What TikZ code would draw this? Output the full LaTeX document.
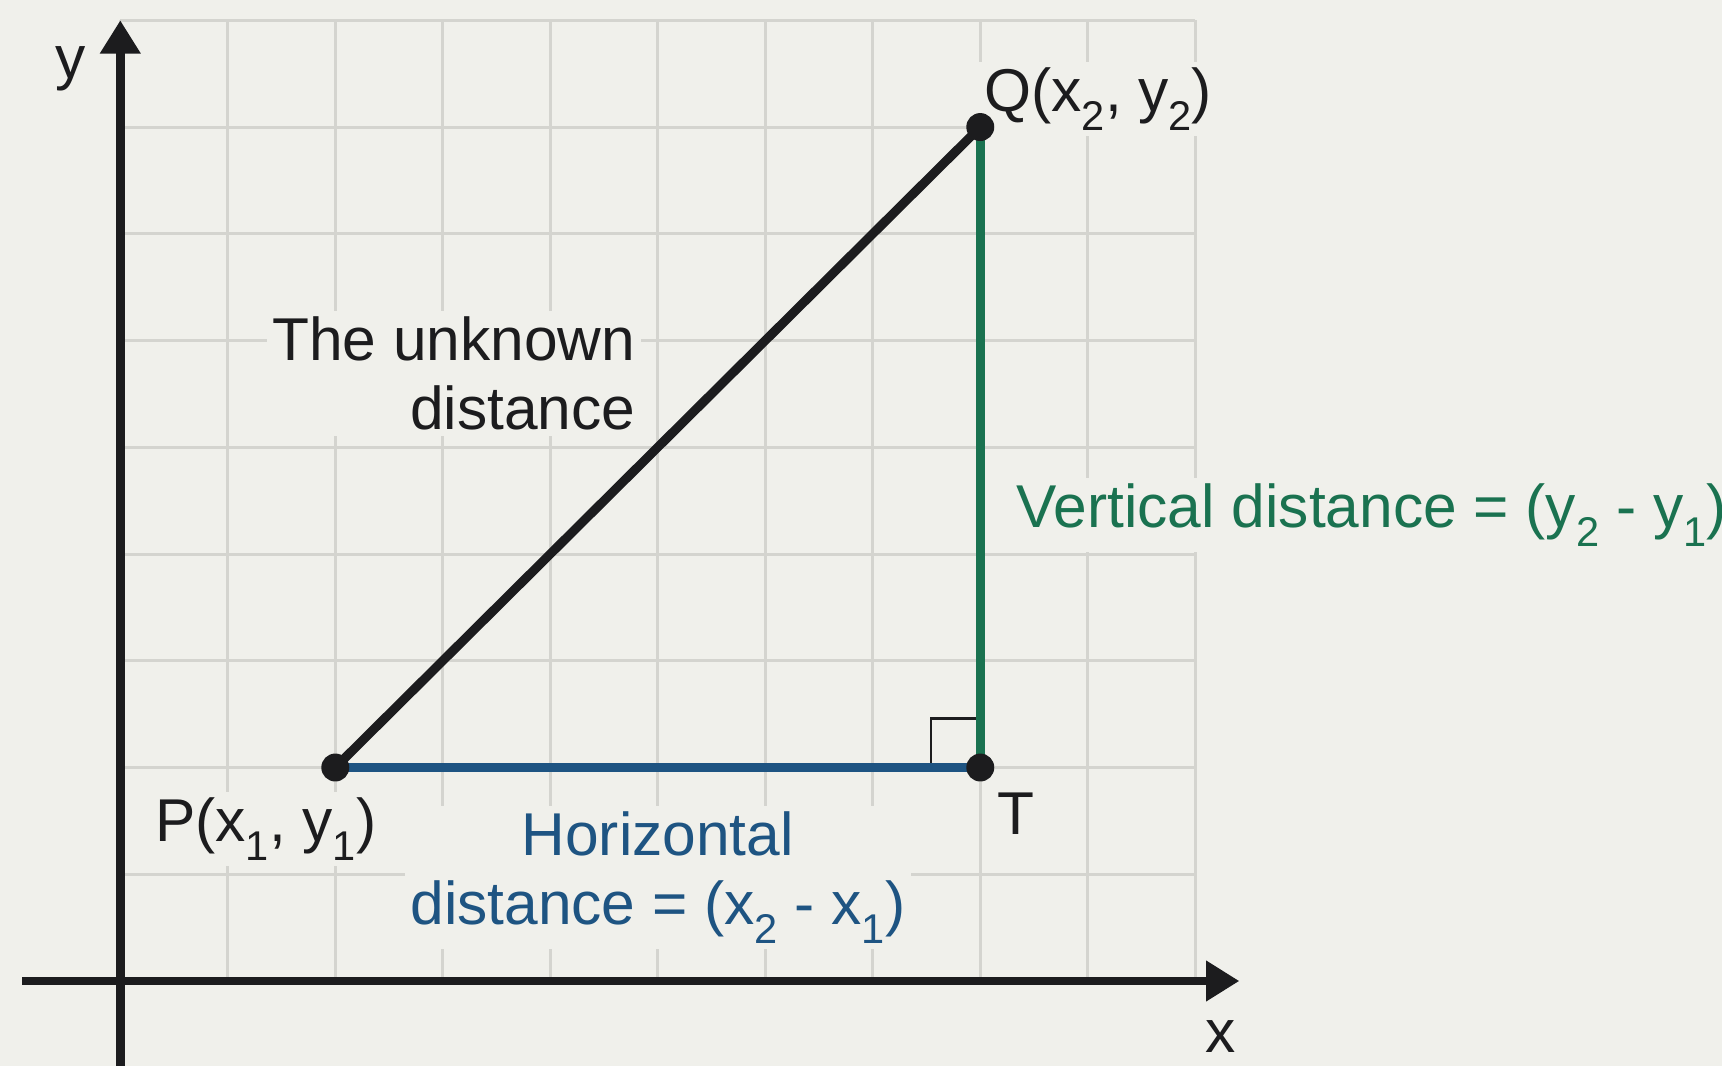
\documentclass[tikz,border=0pt]{standalone}
\usepackage{fontspec}
\setmainfont{Liberation Sans}
\usetikzlibrary{arrows.meta,positioning,calc}
\definecolor{bgcol}{RGB}{240,240,235}
\definecolor{gridcol}{RGB}{212,212,207}
\definecolor{inkcol}{RGB}{28,28,30}
\definecolor{vertcol}{RGB}{26,114,80}
\definecolor{horizcol}{RGB}{30,84,130}
\newcommand{\lowsub}[1]{\raisebox{-0.32em}{\fontsize{11}{11}\selectfont #1}}
\tikzset{
  gridln/.style={draw=gridcol,line width=0.8pt},
  axisln/.style={draw=inkcol,line width=2.3pt,-{Triangle[length=0.31cm,width=0.36cm]}},
  segln/.style={line width=2.4pt},
  dot/.style={circle,fill=inkcol,inner sep=0pt,minimum size=0.26cm},
  lbl/.style={font=\fontsize{16}{18.2}\selectfont,text=inkcol,fill=bgcol,inner sep=1.5pt},
  rangle/.style={draw=inkcol,line width=0.7pt}
}
\begin{document}
\begin{tikzpicture}[x=1cm,y=0.993cm]
  % background and page size
  \fill[bgcol] (-1.119,-0.796) rectangle (14.900,9.190);
  \useasboundingbox (-1.119,-0.796) rectangle (14.900,9.190);

  \foreach \i in {0,...,10} \draw[gridln] (\i,0) -- (\i,9);
  \foreach \j in {0,...,9} \draw[gridln] (0,\j) -- (10,\j);

  % points
  \coordinate (P) at (2,2);
  \coordinate (Q) at (8,8);
  \coordinate (T) at (8,2);

  % labels
  \node[lbl] (ylbl) at (-0.46,8.55) {y};
  \node[lbl] (xlbl) at (10.24,-0.52) {x};
  \node[lbl,anchor=base west] (qlbl) at ($(Q)+(-0.02,0.15)$) {Q(x\lowsub{2}, y\lowsub{2})};
  \node[lbl,anchor=base east] (plbl) at ($(P)+(0.44,-0.69)$) {P(x\lowsub{1}, y\lowsub{1})};
  \node[lbl,anchor=base] (tlbl) at ($(T)+(0.33,-0.63)$) {T};
  \node[lbl,align=right,anchor=east] (hyp) at (4.85,5.69) {The unknown\\distance};
  \node[lbl,text=vertcol,anchor=base west] (vlbl) at (8.28,4.25) {Vertical distance = (y\lowsub{2} - y\lowsub{1})};
  \node[lbl,text=horizcol,align=center] (hlbl) at (5.0,0.97) {Horizontal\\distance = (x\lowsub{2} - x\lowsub{1})};

  % axes
  \coordinate (xl) at (-0.91,0);
  \coordinate (xr) at (10.41,0);
  \coordinate (yb) at (0,-0.8);
  \coordinate (yt) at (0,9);
  \draw[axisln] (xl) -- (xr);
  \draw[axisln] (yb) -- (yt);

  % triangle
  \draw[rangle] ($(T)+(-0.46,0)$) -- ++(0,0.46) -- ++(0.46,0);
  \draw[segln,horizcol] (P) -- (T);
  \draw[segln,vertcol] (T) -- (Q);
  \draw[segln,inkcol] (P) -- (Q);
  \node[dot] (Pdot) at (P) {};
  \node[dot] (Qdot) at (Q) {};
  \node[dot] (Tdot) at (T) {};
\end{tikzpicture}
\end{document}
